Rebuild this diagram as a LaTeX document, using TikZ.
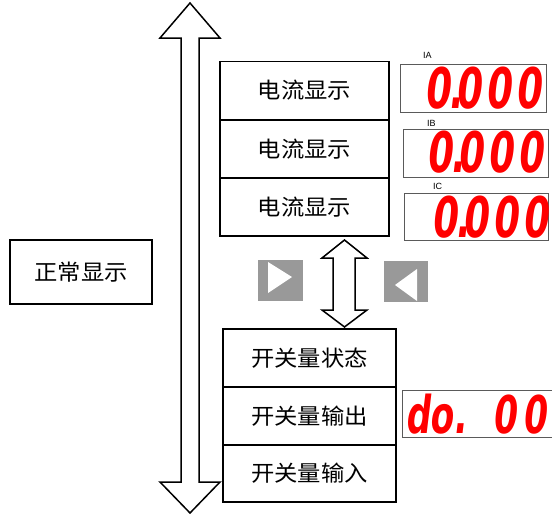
\documentclass[tikz,border=0pt]{standalone}
\usepackage{fontspec}
\newfontfamily\cjk[FakeStretch=1.06]{Noto Sans CJK SC}
\newfontfamily\segfont[FakeStretch=0.66,FakeSlant=0.12]{DejaVu Sans}
\newfontfamily\lblfont{Liberation Sans}
\definecolor{segred}{RGB}{255,0,0}
\definecolor{panelgray}{RGB}{153,153,153}
\definecolor{dispedge}{RGB}{90,90,90}
\newcommand{\segval}{0\kern -2pt .\kern -7.7pt 0\kern 4.3pt 0\kern 4.3pt 0}
\begin{document}
\begin{tikzpicture}[x=1pt,y=-1pt,
  menubox/.style={draw, line width=1.6pt, inner sep=0pt, font=\cjk\fontsize{22}{22}\selectfont},
  dispbox/.style={draw=dispedge, line width=0.9pt, inner sep=0pt},
  segtext/.style={text=segred, inner sep=0pt, text height=40pt, text depth=0pt, font=\segfont\bfseries\fontsize{56}{56}\selectfont},
  segtextsm/.style={text=segred, inner sep=0pt, text height=38pt, text depth=0pt, font=\segfont\bfseries\fontsize{52}{52}\selectfont},
  lbl/.style={inner sep=0pt, font=\lblfont\fontsize{9}{9}\selectfont},
  bigarrow/.style={draw, line width=1.5pt, line join=miter, fill=white},
  panel/.style={fill=panelgray, draw=none, inner sep=0pt, minimum width=45pt, minimum height=41pt}
]
\useasboundingbox (0,0) rectangle (552,514);
\clip (0,0) rectangle (552,514);

% big vertical double arrow
\draw[bigarrow] (190,3) -- (220,38) -- (199,38) -- (199,482) -- (220,482) -- (190,513)
  -- (160,482) -- (181,482) -- (181,38) -- (160,38) -- cycle;

% left box
\node[menubox, minimum width=142pt, minimum height=64pt] (normal) at (81,272) {正常显示};

% current display boxes
\node[menubox, minimum width=169pt, minimum height=58pt] (cur1) at (304.5,90.5) {电流显示};
\node[menubox, minimum width=169pt, minimum height=58pt] (cur2) at (304.5,149) {电流显示};
\node[menubox, minimum width=169pt, minimum height=58pt] (cur3) at (304.5,207) {电流显示};

% switch boxes
\node[menubox, minimum width=173pt, minimum height=58pt] (sw1) at (309.5,358) {开关量状态};
\node[menubox, minimum width=173pt, minimum height=58pt] (sw2) at (309.5,416) {开关量输出};
\node[menubox, minimum width=173pt, minimum height=57pt] (sw3) at (309.5,473.5) {开关量输入};

% small double arrow
\draw[bigarrow] (344.5,240) -- (367,258) -- (355,258) -- (355,310) -- (367,310) -- (344.5,327)
  -- (322,310) -- (333,310) -- (333,258) -- (322,258) -- cycle;

% gray navigation panels
\node[panel] (pright) at (280,280.5) {};
\fill[white] (268,262) -- (292,277) -- (268,293) -- cycle;
\node[panel, minimum width=44pt] (pleft) at (406,281) {};
\fill[white] (395,285) -- (417,269) -- (417,301) -- cycle;

% displays
\node[dispbox, minimum width=146pt, minimum height=48pt] (dA) at (473,88) {};
\node[dispbox, minimum width=145pt, minimum height=48pt] (dB) at (475.5,153) {};
\node[dispbox, minimum width=144pt, minimum height=47pt] (dC) at (476,216.5) {};
\node[dispbox, minimum width=158pt, minimum height=47pt] (dD) at (481,413.5) {};

\node[lbl, anchor=base west] (lA) at (423,58) {IA};
\node[lbl, anchor=base west] (lB) at (427,126) {IB};
\node[lbl, anchor=base west] (lC) at (433,189) {IC};

\node[segtext, anchor=base east] (vA) at (541,108) {\segval};
\node[segtext, anchor=base east] (vB) at (543,172) {\segval};
\node[segtext, anchor=base east] (vC) at (548,237) {\segval};
\node[segtextsm, anchor=base west] (vD) at (405,433) {do.\ \kern 14pt 0\kern 6pt 0};
\end{tikzpicture}
\end{document}
